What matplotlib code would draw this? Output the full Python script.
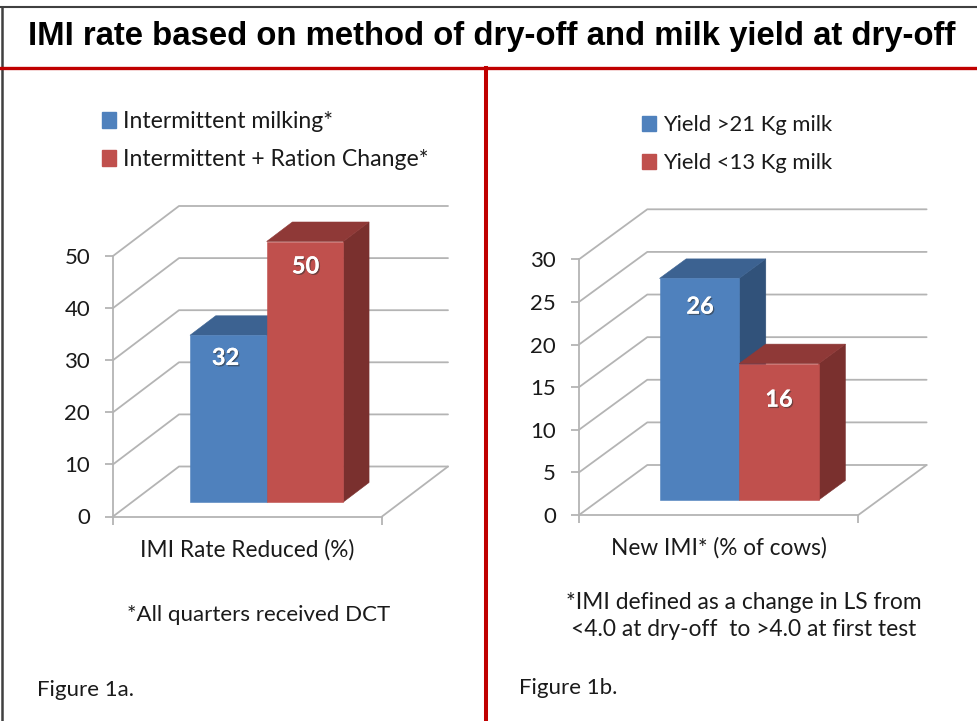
import matplotlib
matplotlib.use("Agg")
import matplotlib.pyplot as plt
import matplotlib.patheffects as pe
from matplotlib.lines import Line2D
from matplotlib.patches import Patch, Polygon

W, H = 977, 721
BODY_FONT = "Lato"

title = "IMI rate based on method of dry-off and milk yield at dry-off"

series_a = ["Intermittent milking*", "Intermittent + Ration Change*"]
values_a = [32, 50]
ticks_a = [0, 10, 20, 30, 40, 50]
xlabel_a = "IMI Rate Reduced (%)"
note_a = "*All quarters received DCT"
fig_label_a = "Figure 1a."

series_b = ["Yield >21 Kg milk", "Yield <13 Kg milk"]
values_b = [26, 16]
ticks_b = [0, 5, 10, 15, 20, 25, 30]
xlabel_b = "New IMI* (% of cows)"
note_b = "*IMI defined as a change in LS from\n<4.0 at dry-off  to >4.0 at first test"
fig_label_b = "Figure 1b."

BLUE = ("#4F81BD", "#3C6291", "#31527A")
RED = ("#C0504D", "#8F3937", "#7A302E")
GRID = "#B4B4B4"
RULE = "#C00000"
TEXT = "#1A1A1A"

fig = plt.figure(figsize=(W / 100, H / 100), dpi=100, facecolor="white")


def fx(px):
    return px / W


def fy(py):
    return 1 - py / H


def oblique_axes(left, right, y0, ytop, ticks):
    """Axes whose rectangle is the front plane of an oblique 3-D column chart."""
    ax = fig.add_axes([fx(left), fy(y0), fx(right - left), (y0 - ytop) / H])
    ax.set_xlim(0, 1)
    ax.set_ylim(0, ticks[-1])
    ax.patch.set_visible(False)
    for side in ("top", "right"):
        ax.spines[side].set_visible(False)
    for side in ("left", "bottom"):
        ax.spines[side].set_color(GRID)
        ax.spines[side].set_linewidth(1.3)
    ax.set_yticks(ticks)
    ax.set_xticks([0, 1])
    ax.set_xticklabels(["", ""])
    ax.tick_params(axis="both", color=GRID, width=1.3, length=5.5)
    ax.tick_params(axis="y", labelsize=16, labelcolor=TEXT, pad=11)
    for lab in ax.get_yticklabels():
        lab.set_fontfamily(BODY_FONT)
    return ax


def draw_chart(ax, values, colors, ticks, rise_px, run_px, bar_depth, labels, offsets):
    """Back wall, floor and columns; depth runs 0 (front) to 1 (back wall)."""
    x_span = ax.get_position().width * W
    y_span = ax.get_position().height * H
    ymax = ticks[-1]
    run = run_px / x_span
    rise = rise_px / y_span * ymax

    def proj(x, y, d):
        return (x + d * run, y + d * rise)

    line = dict(color=GRID, lw=1.3, clip_on=False, zorder=1, solid_capstyle="round")
    for t in ticks:
        pts = [proj(0, t, 0), proj(0, t, 1), proj(1, t, 1)]
        ax.plot(*zip(*pts), **line)
    floor = [proj(1, 0, 0), proj(1, 0, 1)]
    ax.plot(*zip(*floor), **line)

    start, width = 0.215, 0.285
    d0, d1 = bar_depth
    for i, (v, c, lab, off) in enumerate(zip(values, colors, labels, offsets)):
        x0, x1 = start + i * width, start + (i + 1) * width
        faces = [
            ([proj(x1, 0, d0), proj(x1, 0, d1), proj(x1, v, d1), proj(x1, v, d0)], c[2]),
            ([proj(x0, v, d0), proj(x1, v, d0), proj(x1, v, d1), proj(x0, v, d1)], c[1]),
            ([proj(x0, 0, d0), proj(x1, 0, d0), proj(x1, v, d0), proj(x0, v, d0)], c[0]),
        ]
        for pts, col in faces:
            ax.add_patch(Polygon(pts, closed=True, fc=col, ec=col, lw=0.4,
                                 clip_on=False, zorder=2 + i))
        cx, cy = proj((x0 + x1) / 2, v, d0)
        ax.annotate(lab, (cx, cy), xytext=off, textcoords="offset points",
                    ha="center", va="center", color="white", fontsize=17,
                    fontweight="bold", family=BODY_FONT, zorder=6, annotation_clip=False,
                    path_effects=[pe.withSimplePatchShadow(offset=(1, -1), shadow_rgbFace="#333333", alpha=0.55),
                                  pe.Normal()])


def add_legend(names, x_px, y_px, size, spacing):
    handles = [Patch(fc=c[0], ec=c[0]) for c in (BLUE, RED)]
    fig.legend(handles, names, loc="upper left", bbox_to_anchor=(fx(x_px), fy(y_px)),
               frameon=False, handlelength=14 / (size * 100 / 72), handleheight=0.72,
               handletextpad=0.32, labelspacing=spacing, borderpad=0, borderaxespad=0,
               labelcolor=TEXT, prop={"family": BODY_FONT, "size": size})


# Left panel
ax_a = oblique_axes(113, 382, 516.5, 256, ticks_a)
draw_chart(ax_a, values_a, (BLUE, RED), ticks_a, 50, 66, (0.29, 0.68),
           [str(v) for v in values_a], ((-2, -16), (0.5, -17.6)))
ax_a.set_xlabel(xlabel_a, fontsize=16.3, family=BODY_FONT, color=TEXT, labelpad=7)

# Right panel
ax_b = oblique_axes(579, 858.3, 515, 259.3, ticks_b)
draw_chart(ax_b, values_b, (BLUE, RED), ticks_b, 50, 68.3, (0.30, 0.69),
           [str(v) for v in values_b], ((0.5, -20), (0, -25.6)))
ax_b.set_xlabel(xlabel_b, fontsize=16.3, family=BODY_FONT, color=TEXT, labelpad=7)

add_legend(series_a, 102, 111, 16.6, 0.75)
add_legend(series_b, 642, 115, 15.8, 0.83)

# Page furniture
fig.text(fx(491.5), fy(37), title, ha="center", va="center", fontsize=23.65,
         fontweight="bold", family="Liberation Sans", color="black")
fig.text(fx(259), fy(615), note_a, ha="center", va="center", fontsize=16,
         family=BODY_FONT, color=TEXT)
fig.text(fx(744), fy(616), note_b, ha="center", va="center", fontsize=16.4,
         family=BODY_FONT, color=TEXT, linespacing=1.32)
fig.text(fx(37), fy(690), fig_label_a, ha="left", va="center", fontsize=16,
         family=BODY_FONT, color=TEXT)
fig.text(fx(519), fy(688), fig_label_b, ha="left", va="center", fontsize=16,
         family=BODY_FONT, color=TEXT)

for (x0, y0, x1, y1, col, lw) in [
    (0, 6.5, W, 6.5, "#404040", 1.5),
    (1.5, 6.5, 1.5, H, "#404040", 1.8),
    (0, 68, W, 68, RULE, 2.4),
    (486, 68, 486, H, RULE, 2.9),
]:
    fig.add_artist(Line2D([fx(x0), fx(x1)], [fy(y0), fy(y1)], color=col, lw=lw,
                          transform=fig.transFigure))

fig.savefig("out.png", dpi=100, facecolor="white")
